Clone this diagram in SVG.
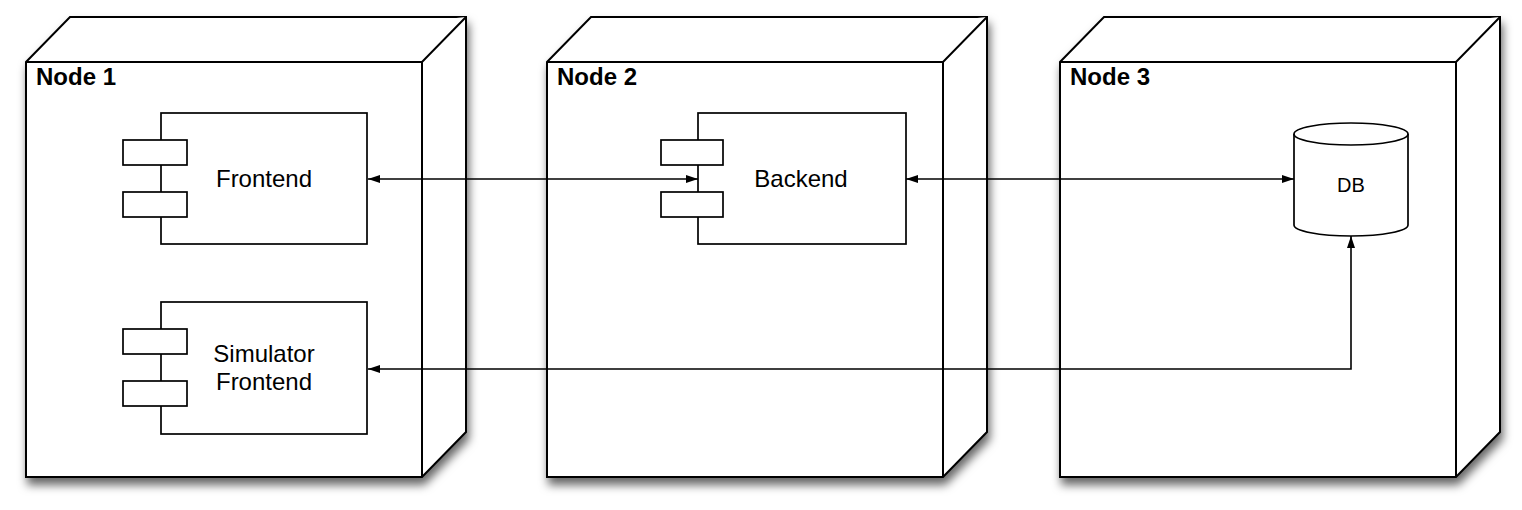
<svg xmlns="http://www.w3.org/2000/svg" width="1522" height="510" viewBox="0 0 1522 510">
  <defs>
    <filter id="shadow" x="-10%" y="-10%" width="125%" height="130%">
      <feDropShadow dx="2" dy="7" stdDeviation="5" flood-color="#000" flood-opacity="0.6"/>
    </filter>
    <marker id="arrow" viewBox="0 0 12 8" refX="12" refY="4" markerWidth="12" markerHeight="8" markerUnits="userSpaceOnUse" orient="auto-start-reverse">
      <path d="M0,0 L12,4 L0,8 Z" fill="#000"/>
    </marker>
  </defs>
  <style>
    .node { fill: #fff; stroke: #000; stroke-width: 2; stroke-linejoin: miter; }
    .comp { fill: #fff; stroke: #000; stroke-width: 1.7; }
    .title { font-family: "Liberation Sans", Arial, sans-serif; font-weight: bold; font-size: 24px; fill: #000; }
    .label { font-family: "Liberation Sans", Arial, sans-serif; font-size: 24px; fill: #000; text-anchor: middle; }
    .small { font-family: "Liberation Sans", Arial, sans-serif; font-size: 20px; fill: #000; text-anchor: middle; }
    .conn { fill: none; stroke: #000; stroke-width: 1.6; }
  </style>

  <g id="node1">
    <path class="node" filter="url(#shadow)" d="M26,62 L70,17 L466,17 L466,432 L422,477 L26,477 Z"/>
    <path class="node" d="M26,62 L422,62 L466,17 M422,62 L422,477"/>
    <text class="title" x="36" y="85">Node 1</text>
  </g>

  <g id="node2">
    <path class="node" filter="url(#shadow)" d="M547,62 L591,17 L987,17 L987,432 L943,477 L547,477 Z"/>
    <path class="node" d="M547,62 L943,62 L987,17 M943,62 L943,477"/>
    <text class="title" x="557" y="85">Node 2</text>
  </g>

  <g id="node3">
    <path class="node" filter="url(#shadow)" d="M1060,62 L1104,17 L1500,17 L1500,432 L1456,477 L1060,477 Z"/>
    <path class="node" d="M1060,62 L1456,62 L1500,17 M1456,62 L1456,477"/>
    <text class="title" x="1070" y="85">Node 3</text>
  </g>

  <g id="frontend">
    <rect class="comp" x="161" y="113" width="206" height="131"/>
    <rect class="comp" x="123" y="140" width="64" height="25"/>
    <rect class="comp" x="123" y="192" width="64" height="25"/>
    <text class="label" x="264" y="187">Frontend</text>
  </g>

  <g id="simulator-frontend">
    <rect class="comp" x="161" y="302" width="206" height="132"/>
    <rect class="comp" x="123" y="329" width="64" height="25"/>
    <rect class="comp" x="123" y="381" width="64" height="25"/>
    <text class="label" x="264" y="362">Simulator</text>
    <text class="label" x="264" y="390">Frontend</text>
  </g>

  <g id="backend">
    <rect class="comp" x="698" y="113" width="208" height="131"/>
    <rect class="comp" x="661" y="140" width="62" height="25"/>
    <rect class="comp" x="661" y="192" width="62" height="25"/>
    <text class="label" x="801" y="187">Backend</text>
  </g>

  <g id="db">
    <path class="comp" d="M1294,134 A57,11 0 0,1 1408,134 L1408,225 A57,11 0 0,1 1294,225 Z"/>
    <path class="comp" fill="none" d="M1294,134 A57,11 0 0,0 1408,134"/>
    <text class="small" x="1351" y="192">DB</text>
  </g>

  <g id="connectors">
    <path class="conn" d="M368,179 L698,179" marker-start="url(#arrow)" marker-end="url(#arrow)"/>
    <path class="conn" d="M906,179 L1294,179" marker-start="url(#arrow)" marker-end="url(#arrow)"/>
    <path class="conn" d="M368,369 L1351,369 L1351,236" marker-start="url(#arrow)" marker-end="url(#arrow)"/>
  </g>
</svg>
